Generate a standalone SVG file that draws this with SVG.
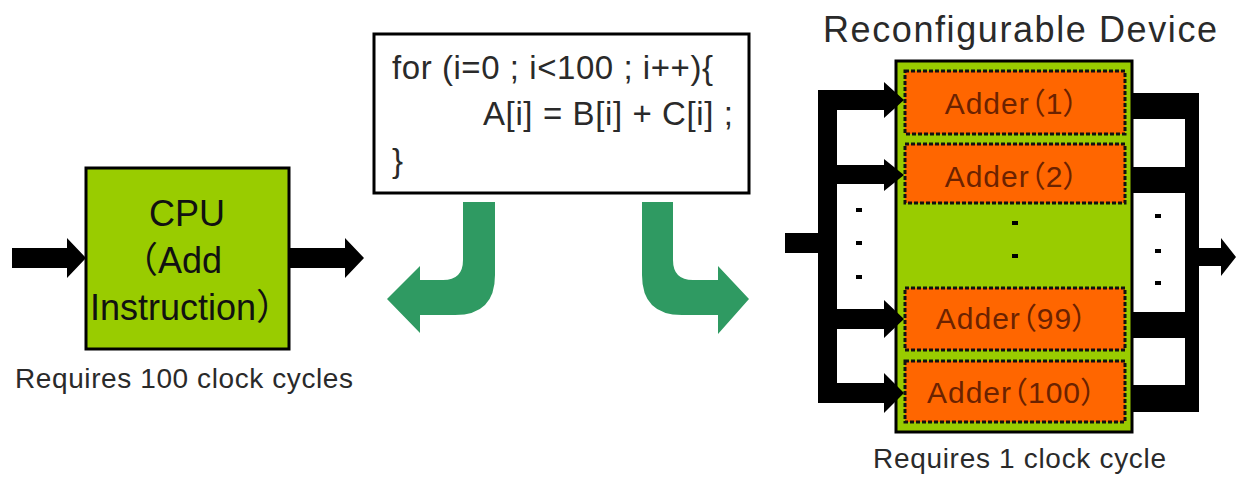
<svg xmlns="http://www.w3.org/2000/svg" width="1236" height="477" viewBox="0 0 1236 477">
<style>
.lbl{font-family:"Liberation Sans","Noto Sans CJK JP",sans-serif;fill:#2a2a2a}
.cpu{font-family:"Liberation Sans","Noto Sans CJK JP",sans-serif;fill:#111;font-size:36px}
.code{font-family:"Liberation Sans",sans-serif;fill:#2a2a2a;font-size:33px}
.add{font-family:"Liberation Sans","Noto Sans CJK JP",sans-serif;fill:#6b2200;font-size:30px;text-anchor:middle;font-feature-settings:"palt";letter-spacing:1px}
.green{fill:#99cc00;stroke:#000;stroke-width:3}
.adder{fill:#ff6600;stroke:#111;stroke-width:3;stroke-dasharray:4 2}
.blk{fill:#000}
.garrow{fill:#2f9a62}
.dot{fill:#000}
</style>
<rect width="1236" height="477" fill="#fff"/>

<g id="cpu">
<rect class="green" x="86" y="168" width="203" height="181"/>
<text class="cpu" x="187" y="226" text-anchor="middle">CPU</text>
<text class="cpu" x="122" y="273">（Add</text>
<text class="cpu" x="90" y="320">Instruction）</text>
</g>
<text id="cpu-label" class="lbl" x="15" y="388" font-size="28" textLength="338" lengthAdjust="spacing">Requires 100 clock cycles</text>

<g id="code">
<rect x="374" y="34" width="375" height="159" fill="#fff" stroke="#000" stroke-width="3"/>
<text class="code" x="392" y="79" textLength="321" lengthAdjust="spacing">for (i=0 ; i&lt;100 ; i++){</text>
<text class="code" x="483" y="125" textLength="250" lengthAdjust="spacing">A[i] = B[i] + C[i] ;</text>
<text class="code" x="392" y="172">}</text>
</g>

<text id="title" class="lbl" x="823" y="42" font-size="36" textLength="394" lengthAdjust="spacing">Reconfigurable Device</text>

<g id="device">
<rect class="green" x="896" y="61" width="236" height="371"/>
<g id="adder1"><rect class="adder" x="905" y="71" width="220" height="63"/><text class="add" x="1012" y="114">Adder（1）</text></g>
<g id="adder2"><rect class="adder" x="905" y="144" width="220" height="59"/><text class="add" x="1012" y="187">Adder（2）</text></g>
<g id="adder99"><rect class="adder" x="905" y="288" width="220" height="62"/><text class="add" x="1012" y="329">Adder（99）</text></g>
<g id="adder100"><rect class="adder" x="905" y="361" width="220" height="61"/><text class="add" x="1012" y="403">Adder（100）</text></g>
<rect class="dot" x="1012" y="221" width="6" height="4"/>
<rect class="dot" x="1012" y="254" width="6" height="4"/>
</g>

<g id="dots">
<rect class="dot" x="856" y="208" width="6" height="4"/>
<rect class="dot" x="856" y="241" width="6" height="4"/>
<rect class="dot" x="856" y="275" width="6" height="4"/>
<rect class="dot" x="1155" y="214" width="6" height="4"/>
<rect class="dot" x="1155" y="249" width="6" height="4"/>
<rect class="dot" x="1155" y="281" width="6" height="4"/>
</g>

<text id="device-label" class="lbl" x="873" y="468" font-size="28" textLength="293" lengthAdjust="spacing">Requires 1 clock cycle</text>

<g id="connectors">
<path class="blk" d="M12,248 H67 V238 L86,258 L67,278 V268 H12 Z"/>
<path class="blk" d="M290,248 H345 V238 L364,258 L345,278 V268 H290 Z"/>
<path class="garrow" d="M463,202 H495 V275 Q495,315 455,315 H420 V333 L387,299 L420,266 V280 H443 Q463,280 463,260 Z"/>
<path class="garrow" d="M642,202 H673 V260 Q673,280 693,280 H718 V266 L749,299 L718,334 V315 H682 Q642,315 642,275 Z"/>
<rect class="blk" x="785" y="233" width="35" height="20"/>
<rect class="blk" x="818" y="90" width="19" height="313"/>
<path class="blk" d="M818,90 H884 V82 L904,100 L884,118 V110 H818 Z"/>
<path class="blk" d="M818,165 H884 V159 L904,175 L884,191 V184 H818 Z"/>
<path class="blk" d="M818,309 H884 V300 L904,319 L884,338 V329 H818 Z"/>
<path class="blk" d="M818,383 H884 V373 L904,393 L884,413 V403 H818 Z"/>
<rect class="blk" x="1132" y="93" width="67" height="26"/>
<rect class="blk" x="1132" y="167" width="67" height="26"/>
<rect class="blk" x="1132" y="312" width="67" height="26"/>
<rect class="blk" x="1132" y="385" width="67" height="27"/>
<rect class="blk" x="1185" y="93" width="14" height="319"/>
<path class="blk" d="M1199,248 H1221 V238 L1236,257 L1221,276 V266 H1199 Z"/>
</g>
</svg>
